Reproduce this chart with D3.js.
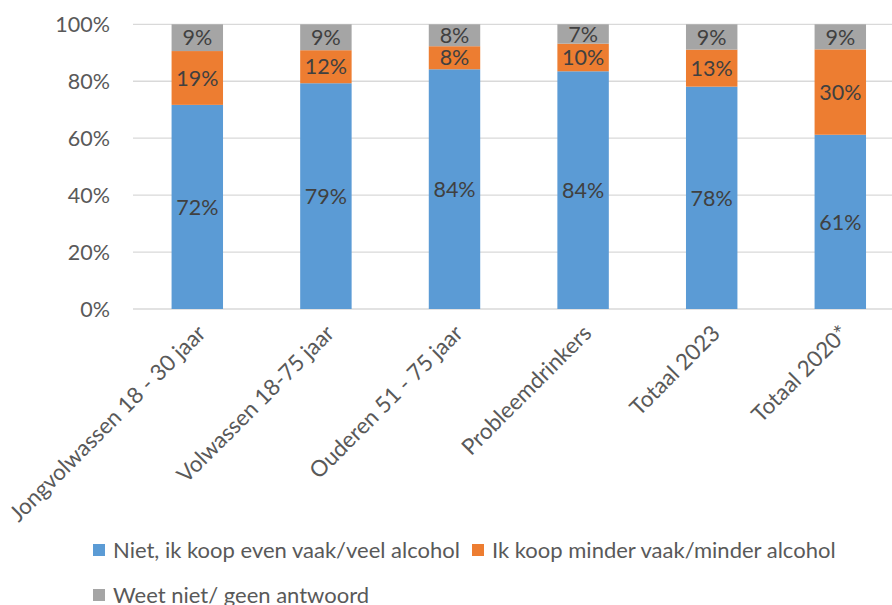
<!DOCTYPE html>
<html><head><meta charset="utf-8">
<script src="https://cdn.jsdelivr.net/npm/d3@7"></script>
<style>html,body{margin:0;padding:0;background:#fff}svg{display:block}</style>
</head><body>
<svg id="c" width="892" height="605"></svg>
<script>
const categories = ["Jongvolwassen 18 - 30 jaar","Volwassen 18-75 jaar","Ouderen 51 - 75 jaar","Probleemdrinkers","Totaal 2023","Totaal 2020*"];
const seriesNames = ["Niet, ik koop even vaak/veel alcohol","Ik koop minder vaak/minder alcohol","Weet niet/ geen antwoord"];
const niet = [71.7, 79.3, 84.2, 83.5, 78.1, 61.2];
const minder = [18.9, 11.6, 8.1, 9.7, 13.0, 30.0];
const weetNiet = [9.4, 9.1, 7.7, 6.8, 8.9, 8.8];
const yTicks = [0, 20, 40, 60, 80, 100];
const colors = ["#5b9bd5", "#ed7d31", "#a5a5a5"];

const FONT = "Lato, 'Open Sans', sans-serif";
const svg = d3.select("#c");
const rows = categories.map((c, i) => ({cat: c, s0: niet[i], s1: minder[i], s2: weetNiet[i]}));
const stack = d3.stack().keys(["s0", "s1", "s2"])(rows);

const x = d3.scaleBand().domain(categories).range([133, 904.6]).paddingInner(0.6).paddingOuter(0.3);
const y = d3.scaleLinear().domain([0, 100]).range([309, 24.3]);

// gridlines
svg.append("g").selectAll("line").data(yTicks).join("line")
  .attr("x1", 133).attr("x2", 892)
  .attr("y1", d => y(d)).attr("y2", d => y(d))
  .attr("stroke", "#d9d9d9").attr("stroke-width", 1.3);

// y labels
svg.append("g").selectAll("text").data(yTicks).join("text")
  .attr("x", 110).attr("y", d => y(d)).attr("dy", "0.36em")
  .attr("text-anchor", "end").attr("font-family", FONT).attr("font-size", 21.5)
  .attr("fill", "#595959").text(d => d + "%");

// bars
const layers = svg.append("g").selectAll("g").data(stack).join("g")
  .attr("fill", (d, i) => colors[i]);
layers.selectAll("rect").data(d => d).join("rect")
  .attr("x", d => x(d.data.cat)).attr("width", x.bandwidth())
  .attr("y", d => y(d[1])).attr("height", d => y(d[0]) - y(d[1]));

// data labels
const lab = svg.append("g");
stack.forEach(layer => {
  layer.forEach(d => {
    lab.append("text")
      .attr("x", x(d.data.cat) + x.bandwidth() / 2)
      .attr("y", (y(d[0]) + y(d[1])) / 2).attr("dy", "0.36em")
      .attr("text-anchor", "middle").attr("font-family", FONT).attr("font-size", 21.5)
      .attr("fill", "#404040").text(Math.round(d[1] - d[0]) + "%");
  });
});

// x labels
svg.append("g").selectAll("text").data(categories).join("text")
  .attr("transform", d => `translate(${x(d) + x.bandwidth() / 2 + 4},${329}) rotate(-45)`)
  .attr("text-anchor", "end").attr("dy", "0.36em")
  .attr("font-family", FONT).attr("font-size", 22.4).attr("fill", "#595959").text(d => d);

// legend
const legendItems = [
  {name: seriesNames[0], color: colors[0], x: 93, y: 550},
  {name: seriesNames[1], color: colors[1], x: 472, y: 550},
  {name: seriesNames[2], color: colors[2], x: 93, y: 595}
];
const lg = svg.append("g").selectAll("g").data(legendItems).join("g")
  .attr("transform", d => `translate(${d.x},${d.y})`);
lg.append("rect").attr("x", 0).attr("y", -6).attr("width", 12).attr("height", 12).attr("fill", d => d.color);
lg.append("text").attr("x", 20).attr("dy", "0.36em").attr("font-family", FONT).attr("font-size", 22)
  .attr("fill", "#595959").text(d => d.name);
</script>
</body></html>
